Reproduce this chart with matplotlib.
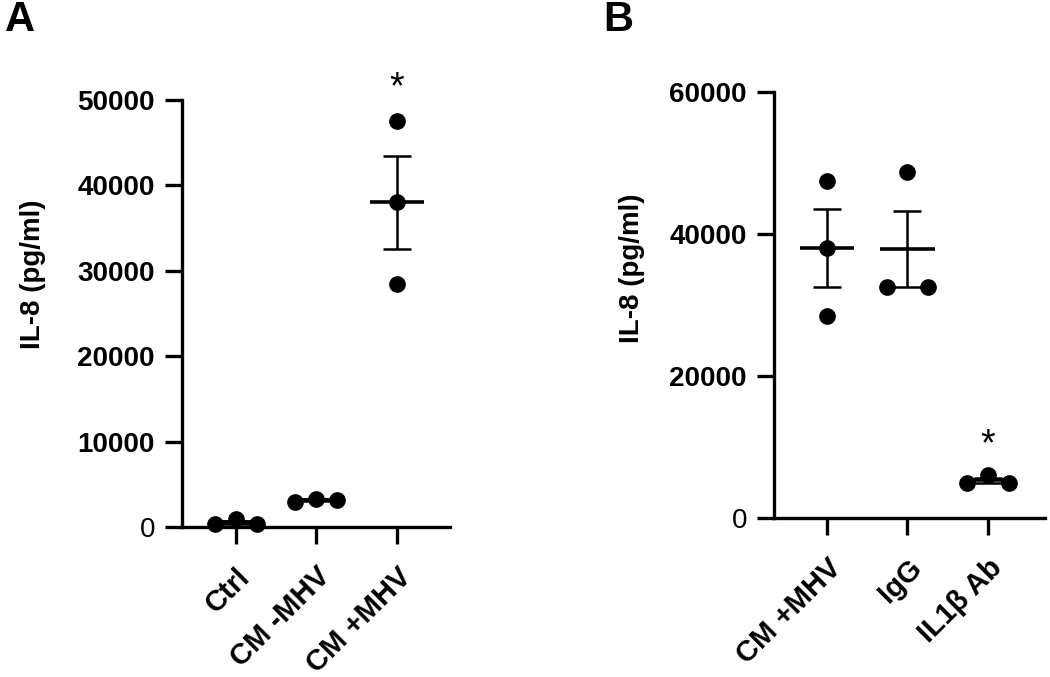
import numpy as np
import matplotlib
matplotlib.use("Agg")
import matplotlib.pyplot as plt

plt.rcParams['font.family'] = ['Liberation Sans', 'DejaVu Sans']

# ---- data ----
groups_a = ['Ctrl', 'CM -MHV', 'CM +MHV']
ctrl = [400, 900, 400]
cm_minus_mhv = [2900, 3300, 3200]
cm_plus_mhv = [28500, 38000, 47500]

groups_b = ['CM +MHV', 'IgG', 'IL1β Ab']
igg = [32500, 48700, 32500]
il1b_ab = [4900, 6100, 4900]

yticks_a = [0, 10000, 20000, 30000, 40000, 50000]
yticks_b = [0, 20000, 40000, 60000]

# ---- style ----
jit = 0.26
jitter_a = [[-jit, 0, jit], [-jit, 0, jit], [0, 0, 0]]
jitter_b = [[0, 0, 0], [-jit, 0, jit], [-jit, 0, jit]]

W, H = 1050, 677
fig = plt.figure(figsize=(W / 100, H / 100), dpi=100)


def px_axes(l, r, b, t):
    return fig.add_axes([l / W, 1 - b / H, (r - l) / W, (b - t) / H])


def draw(ax, groups, series, jitters, yticks, ylim, xlim):
    for i, (vals, jt) in enumerate(zip(series, jitters)):
        vals = np.asarray(vals, float)
        m = vals.mean()
        sem = vals.std(ddof=1) / np.sqrt(len(vals))
        ax.errorbar(i, m, yerr=sem, fmt='none', ecolor='black', elinewidth=1.8,
                    capsize=10, capthick=1.8, zorder=2)
        ax.hlines(m, i - 0.34, i + 0.34, color='black', lw=2.6, zorder=2)
        ax.plot(np.array(jt) + i, vals, 'o', color='black', ms=11, zorder=3,
                clip_on=False)
    ax.set_xlim(*xlim)
    ax.set_ylim(*ylim)
    ax.set_xticks(range(len(groups)))
    ax.set_xticklabels(groups, rotation=45, ha='right', rotation_mode='anchor',
                       fontsize=21, fontweight='bold')
    ax.set_yticks(yticks)
    ax.set_yticklabels([str(v) for v in yticks], fontsize=20, fontweight='bold')
    for lbl in ax.get_yticklabels():
        if lbl.get_text() == '0':
            lbl.set_fontweight('normal')
    for s in ['top', 'right']:
        ax.spines[s].set_visible(False)
    for s in ['left', 'bottom']:
        ax.spines[s].set_linewidth(2.4)
    ax.tick_params(axis='both', width=2.4, length=12.5, color='black')
    ax.tick_params(axis='y', pad=7)
    ax.tick_params(axis='x', pad=13)
    ax.patch.set_alpha(0)


axA = px_axes(182, 450, 527, 100)
draw(axA, groups_a, [ctrl, cm_minus_mhv, cm_plus_mhv], jitter_a, yticks_a,
     (0, 50000), (-0.67, 2.66))
axA.text(2, 49300, '*', ha='center', va='bottom', fontsize=27)

axB = px_axes(774, 1045, 518, 92)
draw(axB, groups_b, [cm_plus_mhv, igg, il1b_ab], jitter_b, yticks_b,
     (0, 60000), (-0.66, 2.71))
axB.text(2, 7700, '*', ha='center', va='bottom', fontsize=27)

fig.text(33 / W, 1 - 274 / H, 'IL-8 (pg/ml)', rotation=90, ha='center',
         va='center', fontsize=20, fontweight='bold')
fig.text(632 / W, 1 - 268 / H, 'IL-8 (pg/ml)', rotation=90, ha='center',
         va='center', fontsize=20, fontweight='bold')

fig.text(20 / W, 1 - 20 / H, 'A', ha='center', va='center', fontsize=30,
         fontweight='bold')
fig.text(618 / W, 1 - 20 / H, 'B', ha='center', va='center', fontsize=30,
         fontweight='bold')

fig.savefig('out.png', dpi=100, facecolor='white')
